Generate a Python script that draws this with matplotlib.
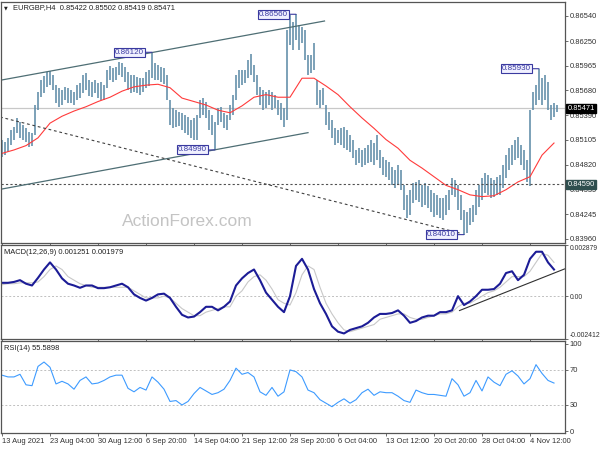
import matplotlib
matplotlib.use('Agg')
import matplotlib.pyplot as plt
import numpy as np

# ---------------- data ----------------
PRICE_STEP = 2   # H4 bars per price sample
IND_STEP = 4     # H4 bars per indicator sample
MA_STEP = 8
price_high = [0.8511,0.8508,0.8513,0.8522,0.8526,0.8536,0.8531,0.8528,0.8524,0.8520,
              0.8519,0.8551,0.8566,0.8580,0.8585,0.8589,0.8590,0.8586,0.8574,0.8571,
              0.8568,0.8572,0.8571,0.8568,0.8566,0.8574,0.8576,0.8586,0.8588,0.8580,
              0.8578,0.8580,0.8576,0.8578,0.8574,0.8591,0.8596,0.8594,0.8595,0.8601,
              0.8600,0.8595,0.8589,0.8586,0.8586,0.8583,0.8582,0.8582,0.8589,0.8591,
              0.8612,0.8600,0.8597,0.8595,0.8594,0.8586,0.8557,0.8548,0.8545,0.8543,
              0.8542,0.8539,0.8537,0.8534,0.8536,0.8539,0.8557,0.8559,0.8554,0.8545,
              0.8539,0.8531,0.8548,0.8549,0.8542,0.8539,0.8551,0.8563,0.8586,0.8591,
              0.8591,0.8591,0.8603,0.8610,0.8597,0.8586,0.8572,0.8568,0.8566,0.8568,
              0.8566,0.8563,0.8557,0.8553,0.8548,0.8638,0.8655,0.8647,0.8656,0.8644,
              0.8641,0.8638,0.8609,0.8609,0.8623,0.8580,0.8568,0.8571,0.8551,0.8543,
              0.8534,0.8524,0.8522,0.8524,0.8526,0.8522,0.8516,0.8511,0.8499,0.8501,
              0.8499,0.8501,0.8505,0.8511,0.8507,0.8516,0.8499,0.8491,0.8487,0.8485,
              0.8479,0.8476,0.8482,0.8476,0.8458,0.8447,0.8453,0.8461,0.8462,0.8464,
              0.8458,0.8461,0.8457,0.8453,0.8449,0.8447,0.8443,0.8443,0.8447,0.8453,
              0.8467,0.8464,0.8458,0.8447,0.8430,0.8427,0.8432,0.8435,0.8453,0.8458,
              0.8467,0.8472,0.8470,0.8467,0.8464,0.8468,0.8470,0.8482,0.8493,0.8501,
              0.8505,0.8511,0.8514,0.8505,0.8499,0.8487,0.8545,0.8566,0.8574,0.8593,
              0.8582,0.8586,0.8578,0.8551,0.8553,0.8551]
price_low = [0.8491,0.8493,0.8497,0.8505,0.8511,0.8519,0.8513,0.8511,0.8508,0.8502,
             0.8504,0.8516,0.8545,0.8560,0.8565,0.8572,0.8574,0.8568,0.8553,0.8549,
             0.8551,0.8557,0.8553,0.8553,0.8551,0.8557,0.8559,0.8565,0.8568,0.8561,
             0.8560,0.8565,0.8559,0.8557,0.8557,0.8571,0.8580,0.8578,0.8580,0.8586,
             0.8583,0.8578,0.8568,0.8565,0.8566,0.8565,0.8563,0.8566,0.8571,0.8573,
             0.8582,0.8580,0.8580,0.8578,0.8575,0.8557,0.8528,0.8524,0.8526,0.8527,
             0.8522,0.8519,0.8516,0.8513,0.8511,0.8511,0.8536,0.8539,0.8536,0.8522,
             0.8516,0.8499,0.8528,0.8531,0.8524,0.8522,0.8534,0.8539,0.8557,0.8571,
             0.8574,0.8576,0.8582,0.8586,0.8578,0.8563,0.8551,0.8545,0.8548,0.8551,
             0.8545,0.8548,0.8539,0.8534,0.8526,0.8534,0.8620,0.8615,0.8626,0.8615,
             0.8623,0.8603,0.8586,0.8588,0.8591,0.8551,0.8548,0.8551,0.8528,0.8522,
             0.8513,0.8505,0.8507,0.8505,0.8501,0.8499,0.8497,0.8490,0.8482,0.8484,
             0.8479,0.8482,0.8484,0.8485,0.8482,0.8487,0.8478,0.8470,0.8468,0.8464,
             0.8458,0.8455,0.8458,0.8453,0.8430,0.8420,0.8424,0.8438,0.8441,0.8439,
             0.8433,0.8435,0.8432,0.8427,0.8421,0.8424,0.8420,0.8418,0.8424,0.8430,
             0.8447,0.8445,0.8430,0.8418,0.8401,0.8403,0.8412,0.8416,0.8424,0.8433,
             0.8441,0.8449,0.8447,0.8443,0.8445,0.8447,0.8447,0.8455,0.8467,0.8476,
             0.8482,0.8487,0.8490,0.8482,0.8476,0.8462,0.8457,0.8545,0.8551,0.8557,
             0.8551,0.8557,0.8545,0.8534,0.8537,0.8543]
ma_values = [0.8495,0.8499,0.8504,0.8513,0.8530,0.8538,0.8544,0.8549,0.8555,0.8560,
             0.8567,0.8572,0.8574,0.8575,0.8571,0.8559,0.8555,0.8551,0.8545,0.8542,
             0.8550,0.8560,0.8563,0.8560,0.8560,0.8582,0.8582,0.8573,0.8563,0.8549,
             0.8536,0.8524,0.8511,0.8501,0.8487,0.8478,0.8468,0.8458,0.8453,0.8447,
             0.8445,0.8446,0.8453,0.8462,0.8468,0.8493,0.8507]
macd = [0.00075,0.00075,0.0008,0.0009,0.0007,0.0006,0.00103,0.0015,0.0019,0.0015,
        0.001,0.0007,0.0006,0.00047,0.0006,0.0006,0.00045,0.00045,0.0005,0.0006,
        0.0007,0.0005,0.0001,-0.0001,-0.00025,-0.0001,0.0001,0.00014,-0.0001,-0.0006,
        -0.00105,-0.0012,-0.00115,-0.0009,-0.0006,-0.0006,-0.0008,-0.0006,-0.0003,0.0006,
        0.001,0.0013,0.0015,0.0009,0.0002,-0.0002,-0.0006,-0.0009,0.0,0.0017,
        0.0021,0.0015,0.0004,-0.0004,-0.001,-0.0017,-0.0020,-0.0021,-0.0019,-0.0018,
        -0.0017,-0.0015,-0.0012,-0.001,-0.001,-0.00095,-0.0008,-0.0011,-0.0015,-0.0014,
        -0.0012,-0.0011,-0.0011,-0.0009,-0.0009,-0.0008,0.0,-0.0005,-0.0003,0.0,
        0.00036,0.00036,0.0004,0.0007,0.0013,0.0014,0.0009,0.0012,0.0021,0.0025,
        0.0025,0.0019,0.0015]
signal = [0.00064,0.0007,0.0007,0.00075,0.00075,0.00075,0.0008,0.0011,0.0015,0.0017,
          0.0015,0.0011,0.0009,0.0007,0.0006,0.0005,0.0005,0.0005,0.0005,0.0005,
          0.0005,0.0005,0.0003,0.0001,-0.0001,-0.0001,-0.0001,0.0,-0.0001,-0.0004,
          -0.0007,-0.0009,-0.0011,-0.0011,-0.0009,-0.0008,-0.0007,-0.0006,-0.0006,0.0,
          0.0003,0.0008,0.0011,0.0012,0.0009,0.0004,-0.0002,-0.0004,-0.0005,0.0002,
          0.0012,0.0017,0.0015,0.0005,-0.0004,-0.001,-0.0015,-0.0019,-0.002,-0.0019,
          -0.0018,-0.0017,-0.0016,-0.0013,-0.0012,-0.0011,-0.001,-0.001,-0.0012,-0.0013,
          -0.0013,-0.0012,-0.0011,-0.001,-0.001,-0.0009,-0.0006,-0.0004,-0.0004,-0.0002,
          0.0,0.0002,0.0003,0.0005,0.0008,0.0011,0.0011,0.0011,0.0014,0.0019,
          0.0024,0.0023,0.0019]
rsi = [64,62,62,65,53,52,74,79,73,54,57,54,48,58,62,54,55,58,62,64,
       64,49,45,50,47,62,56,48,34,35,30,34,43,50,46,42,44,48,58,72,
       65,67,62,45,41,50,40,45,70,68,62,47,44,36,32,28,33,37,32,36,
       44,48,41,45,44,44,40,35,33,47,44,42,42,41,40,60,53,40,44,58,
       46,62,56,52,65,69,63,54,60,76,66,58,55]

price_ticks = [0.86540, 0.86250, 0.85965, 0.85680, 0.85390, 0.85105, 0.84820, 0.84535, 0.84245, 0.83960]
date_labels = ['13 Aug 2021', '23 Aug 04:00', '30 Aug 12:00', '6 Sep 20:00', '14 Sep 04:00',
               '21 Sep 12:00', '28 Sep 20:00', '6 Oct 04:00', '13 Oct 12:00', '20 Oct 20:00',
               '28 Oct 04:00', '4 Nov 12:00']
BARS_PER_LABEL = 32

# annotations: (bar, price)
ann_bars = [100, 142, 196, 308, 358]
ann_prices = [0.86120, 0.84990, 0.86560, 0.84010, 0.85930]
last_price = 0.85471
level_price = 0.84590
# trend lines: (bar0, price0, bar1, price1)
upper_channel = (0, 0.8580, 215, 0.86482)
lower_channel = (0, 0.84538, 204, 0.8519)
support_line = (-1.3, 0.85371, 305, 0.84029)
macd_trend = (305, -0.00081, 375, 0.00153)

# ---------------- layout ----------------
W, H = 600, 450
fig = plt.figure(figsize=(6, 4.5), dpi=100)
fig.patch.set_facecolor('white')
FONT = 'Liberation Sans'
FS = 5.4
TXT = '#303030'

def axrect(top, bottom, left=1, right=565):
    return [left / W, 1 - bottom / H, (right - left) / W, (bottom - top) / H]

ax1 = fig.add_axes(axrect(2, 243))
ax2 = fig.add_axes(axrect(245, 339))
ax3 = fig.add_axes(axrect(341, 433))
XL = (-0.67, 375.33)

for ax in (ax1, ax2, ax3):
    ax.set_xlim(*XL)
    ax.set_facecolor('white')
    for s in ax.spines.values():
        s.set_color('#555555')
        s.set_linewidth(0.9)
    ax.yaxis.tick_right()
    ax.tick_params(axis='y', direction='out', length=2, width=0.6, color='#555555',
                   labelsize=FS, labelcolor=TXT, pad=1.5)
    ax.tick_params(axis='x', direction='out', length=2, width=0.6, color='#555555')
    ax.set_xticks(np.arange(len(date_labels)) * BARS_PER_LABEL)
    ax.set_xticklabels([])

# ---- main price panel ----
bars = np.arange(len(price_high)) * PRICE_STEP
ax1.set_ylim(0.83913, 0.86702)
ax1.vlines(bars, price_low, price_high, color='#5f8ca8', lw=1.15)
ma_x = np.arange(len(ma_values)) * MA_STEP
ax1.plot(ma_x, ma_values, color='#ff3b3b', lw=0.8)
ax1.axhline(last_price, color='#c8c8c8', lw=0.9, zorder=0)
ax1.axhline(level_price, color='#505050', lw=0.8, ls=(0, (2, 2)))
for (b0, p0, b1, p1) in (upper_channel, lower_channel):
    ax1.plot([b0, b1], [p0, p1], color='#4e6e74', lw=0.9)
b0, p0, b1, p1 = support_line
ax1.plot([b0, b1], [p0, p1], color='#404040', lw=0.8, ls=(0, (2.5, 2.5)))
ax1.set_yticks(price_ticks)
ax1.set_yticklabels([f'{v:.5f}' for v in price_ticks], fontfamily=FONT)
for b, p in zip(ann_bars, ann_prices):
    ax1.annotate(f'{p:.5f}', xy=(b, p), xytext=(-8, 0), textcoords='offset pixels',
                 ha='right', va='center', fontsize=FS + 0.4, family=FONT, color='#3a3aa0',
                 bbox=dict(boxstyle='square,pad=0.12', fc='#f0f0ff', ec='#3a3aa0', lw=0.8),
                 arrowprops=dict(arrowstyle='-', color='#3a3aa0', lw=0.8, shrinkA=0, shrinkB=0))
ytr = ax1.get_yaxis_transform()
ax1.text(1.004, last_price, f'{last_price:.5f}', transform=ytr, ha='left', va='center',
         fontsize=FS, family=FONT, color='white',
         bbox=dict(boxstyle='square,pad=0.15', fc='black', ec='black'), clip_on=False, zorder=5)
ax1.text(1.004, level_price, f'{level_price:.5f}', transform=ytr, ha='left', va='center',
         fontsize=FS, family=FONT, color='white',
         bbox=dict(boxstyle='square,pad=0.15', fc='#2f4f4f', ec='#2f4f4f'), clip_on=False, zorder=5)
ax1.text(0.33, 0.09, 'ActionForex.com', transform=ax1.transAxes, ha='center', va='center',
         fontsize=12.5, family=FONT, color='#c4c4c4')
ax1.text(0.006, 0.975, '\u25bc', transform=ax1.transAxes, ha='left', va='center',
         fontsize=3.5, family='DejaVu Sans', color='#202020')
ax1.text(0.022, 0.975, 'EURGBP,H4  0.85422 0.85502 0.85419 0.85471', transform=ax1.transAxes,
         ha='left', va='center', fontsize=FS, family=FONT, color='#202020')

# ---- MACD panel ----
mx = np.arange(len(macd)) * IND_STEP
ax2.set_ylim(-0.002412, 0.002879)
ax2.axhline(0, color='#c0c0c0', lw=0.7, ls=(0, (2, 2)))
ax2.plot(mx, signal, color='#c8c8c8', lw=0.8)
ax2.plot(mx, macd, color='#1c1c96', lw=1.5)
b0, p0, b1, p1 = macd_trend
ax2.plot([b0, b1], [p0, p1], color='#303030', lw=0.8)
ax2.set_yticks([0.002879, 0.0, -0.002412])
ax2.set_yticklabels(['0.002879', '0.00', '-0.002412'], fontfamily=FONT, fontsize=4.9)
tl = ax2.get_yticklabels()
tl[0].set_va('top')
tl[2].set_va('bottom')
ax2.text(0.006, 0.955, 'MACD(12,26,9) 0.001251 0.001979', transform=ax2.transAxes,
         ha='left', va='top', fontsize=FS, family=FONT, color='#202020')

# ---- RSI panel ----
rx = np.arange(len(rsi)) * IND_STEP
ax3.set_ylim(-2, 103)
for lv in (70, 30):
    ax3.axhline(lv, color='#c0c0c0', lw=0.7, ls=(0, (2, 2)))
ax3.plot(rx, rsi, color='#3d9bff', lw=0.8)
ax3.set_yticks([100, 70, 30, 0])
ax3.set_yticklabels(['100', '70', '30', '0'], fontfamily=FONT)
ax3.text(0.006, 0.955, 'RSI(14) 55.5898', transform=ax3.transAxes,
         ha='left', va='top', fontsize=FS, family=FONT, color='#202020')
ax3.set_xticklabels(date_labels, fontsize=FS, family=FONT, color=TXT)
for lab in ax3.get_xticklabels():
    lab.set_ha('left')
ax3.tick_params(axis='x', pad=1.5)

fig.savefig('out.png', dpi=100, facecolor='white')
